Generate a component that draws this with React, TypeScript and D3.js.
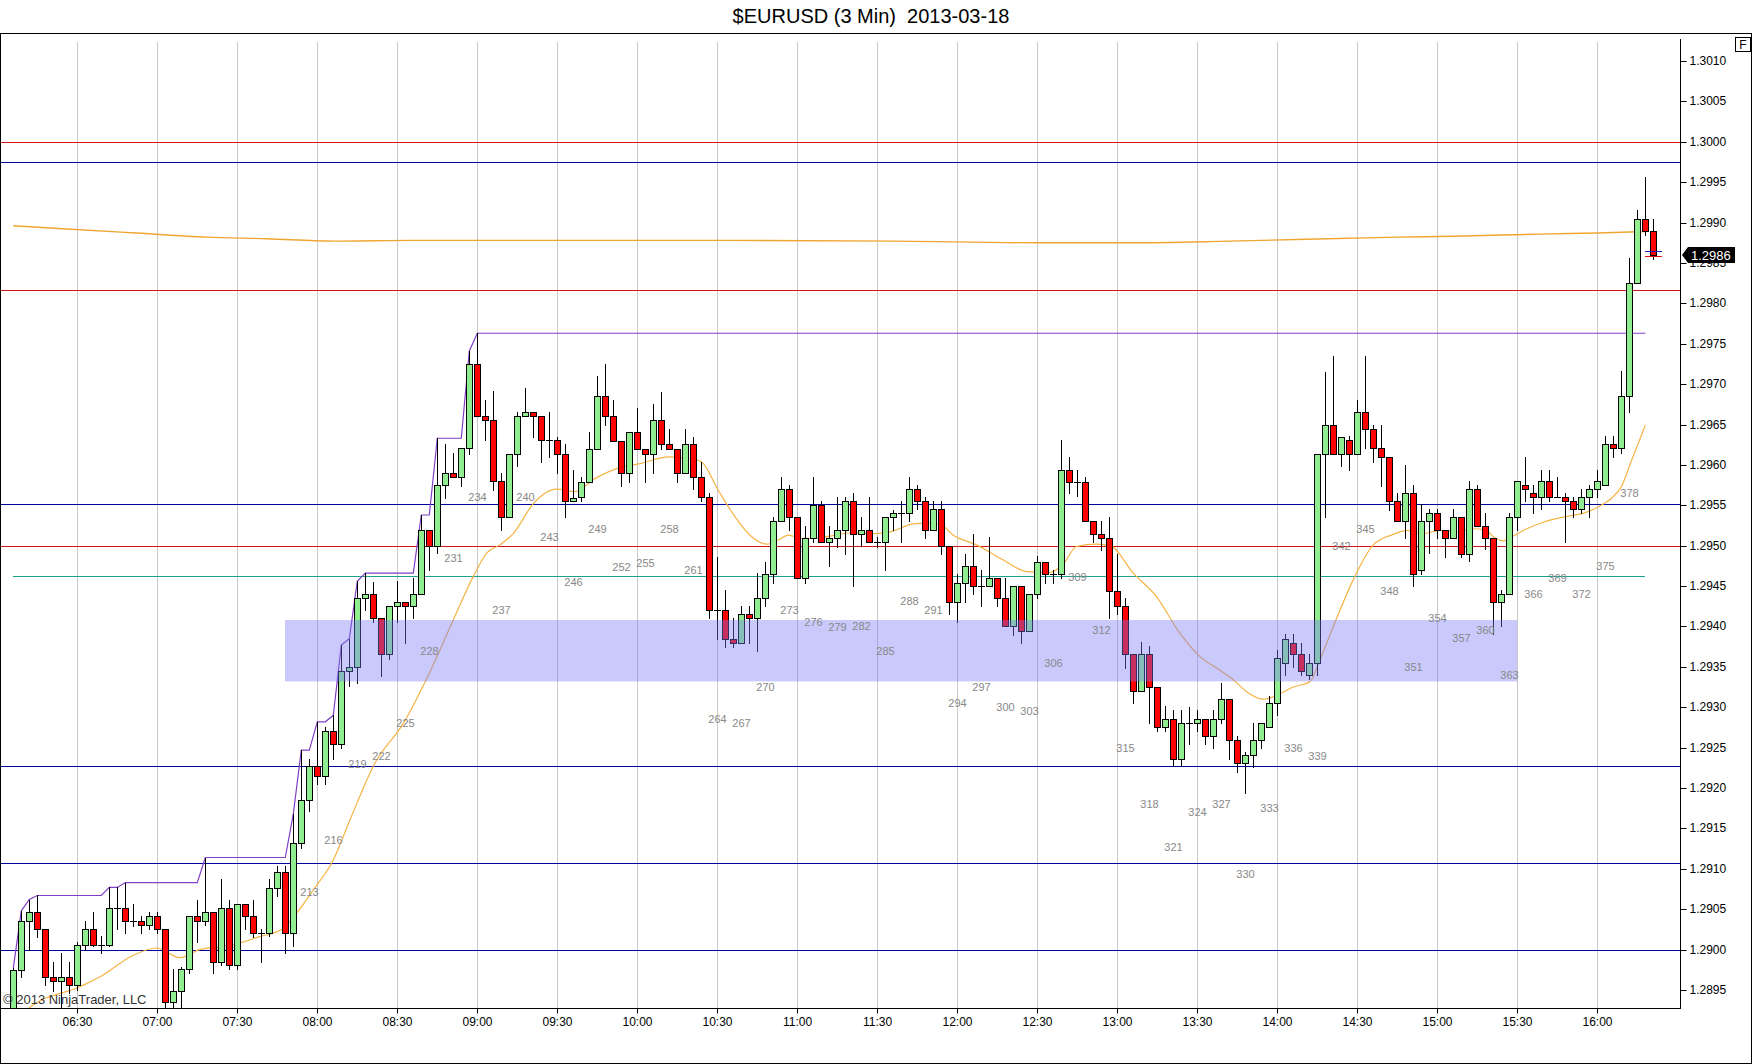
import * as React from 'react';
import {useEffect, useRef} from 'react';
import * as d3 from 'd3';

const SESSION_DATE = '2013-03-18';
const FIRST_BAR = '06:06';
const BAR_MINUTES = 3;

// open, high, low, close for each 3 min bar, bar 0 = 06:06
const candles = [
  [1.28927, 1.28977, 1.28925, 1.28975], [1.28975, 1.29048, 1.28966, 1.29035], [1.29035, 1.29062, 1.29000, 1.29046],
  [1.29046, 1.29067, 1.29016, 1.29026], [1.29026, 1.29026, 1.28956, 1.28966], [1.28966, 1.28985, 1.28949, 1.28961],
  [1.28961, 1.28996, 1.28928, 1.28966], [1.28966, 1.28985, 1.28946, 1.28956], [1.28956, 1.29010, 1.28950, 1.29006],
  [1.29006, 1.29035, 1.29000, 1.29026], [1.29026, 1.29046, 1.29004, 1.29006], [1.29006, 1.29017, 1.28996, 1.29006],
  [1.29006, 1.29077, 1.29004, 1.29051], [1.29051, 1.29077, 1.29026, 1.29051], [1.29051, 1.29083, 1.29021, 1.29035],
  [1.29035, 1.29056, 1.29029, 1.29035], [1.29035, 1.29042, 1.29020, 1.29030], [1.29030, 1.29046, 1.29026, 1.29042],
  [1.29042, 1.29046, 1.29020, 1.29026], [1.29026, 1.29026, 1.28929, 1.28935], [1.28935, 1.28976, 1.28929, 1.28949],
  [1.28949, 1.28978, 1.28927, 1.28976], [1.28976, 1.29042, 1.28971, 1.29041], [1.29041, 1.29062, 1.29010, 1.29035],
  [1.29035, 1.29114, 1.29030, 1.29046], [1.29046, 1.29046, 1.28971, 1.28985], [1.28985, 1.29088, 1.28981, 1.29051],
  [1.29051, 1.29062, 1.28976, 1.28981], [1.28981, 1.29056, 1.28976, 1.29056], [1.29056, 1.29056, 1.29026, 1.29041],
  [1.29041, 1.29062, 1.29016, 1.29021], [1.29021, 1.29026, 1.28985, 1.29021], [1.29021, 1.29088, 1.29017, 1.29076],
  [1.29076, 1.29103, 1.29066, 1.29096], [1.29096, 1.29103, 1.28996, 1.29021], [1.29021, 1.29168, 1.29005, 1.29132],
  [1.29132, 1.29247, 1.29126, 1.29185], [1.29185, 1.29236, 1.29171, 1.29227], [1.29227, 1.29282, 1.29205, 1.29215],
  [1.29215, 1.29276, 1.29205, 1.29270], [1.29270, 1.29290, 1.29236, 1.29255], [1.29255, 1.29377, 1.29250, 1.29345],
  [1.29345, 1.29385, 1.29326, 1.29350], [1.29350, 1.29456, 1.29330, 1.29435], [1.29435, 1.29466, 1.29420, 1.29440],
  [1.29440, 1.29455, 1.29406, 1.29410], [1.29410, 1.29410, 1.29339, 1.29366], [1.29366, 1.29425, 1.29360, 1.29425],
  [1.29425, 1.29456, 1.29405, 1.29430], [1.29430, 1.29430, 1.29380, 1.29425], [1.29425, 1.29460, 1.29410, 1.29440],
  [1.29440, 1.29538, 1.29440, 1.29520], [1.29520, 1.29520, 1.29470, 1.29500], [1.29500, 1.29633, 1.29491, 1.29575],
  [1.29575, 1.29626, 1.29559, 1.29590], [1.29590, 1.29615, 1.29585, 1.29585], [1.29585, 1.29621, 1.29574, 1.29621],
  [1.29621, 1.29741, 1.29614, 1.29725], [1.29725, 1.29763, 1.29660, 1.29660], [1.29660, 1.29680, 1.29631, 1.29656],
  [1.29656, 1.29691, 1.29569, 1.29580], [1.29580, 1.29590, 1.29520, 1.29535], [1.29535, 1.29614, 1.29535, 1.29614],
  [1.29614, 1.29666, 1.29599, 1.29660], [1.29660, 1.29695, 1.29660, 1.29665], [1.29665, 1.29665, 1.29635, 1.29660],
  [1.29660, 1.29660, 1.29604, 1.29631], [1.29631, 1.29665, 1.29610, 1.29631], [1.29631, 1.29635, 1.29590, 1.29614],
  [1.29614, 1.29626, 1.29535, 1.29555], [1.29555, 1.29594, 1.29555, 1.29559], [1.29560, 1.29585, 1.29555, 1.29579],
  [1.29579, 1.29641, 1.29579, 1.29620], [1.29620, 1.29710, 1.29620, 1.29685], [1.29685, 1.29725, 1.29649, 1.29660],
  [1.29660, 1.29680, 1.29630, 1.29630], [1.29630, 1.29630, 1.29574, 1.29590], [1.29590, 1.29641, 1.29579, 1.29641],
  [1.29641, 1.29670, 1.29620, 1.29620], [1.29620, 1.29620, 1.29579, 1.29614], [1.29614, 1.29675, 1.29590, 1.29656],
  [1.29656, 1.29690, 1.29620, 1.29626], [1.29626, 1.29645, 1.29620, 1.29620], [1.29620, 1.29620, 1.29579, 1.29590],
  [1.29590, 1.29645, 1.29590, 1.29626], [1.29626, 1.29635, 1.29570, 1.29585], [1.29585, 1.29604, 1.29555, 1.29560],
  [1.29560, 1.29565, 1.29410, 1.29420], [1.29420, 1.29486, 1.29385, 1.29420], [1.29420, 1.29445, 1.29375, 1.29385],
  [1.29385, 1.29410, 1.29375, 1.29380], [1.29380, 1.29425, 1.29380, 1.29415], [1.29415, 1.29425, 1.29380, 1.29410],
  [1.29410, 1.29466, 1.29370, 1.29435], [1.29435, 1.29480, 1.29425, 1.29465], [1.29465, 1.29535, 1.29454, 1.29530],
  [1.29530, 1.29585, 1.29530, 1.29570], [1.29570, 1.29575, 1.29520, 1.29535], [1.29535, 1.29535, 1.29460, 1.29460],
  [1.29460, 1.29525, 1.29454, 1.29510], [1.29510, 1.29585, 1.29505, 1.29550], [1.29550, 1.29555, 1.29505, 1.29505],
  [1.29505, 1.29525, 1.29475, 1.29510], [1.29510, 1.29560, 1.29499, 1.29520], [1.29520, 1.29560, 1.29490, 1.29555],
  [1.29555, 1.29565, 1.29450, 1.29515], [1.29515, 1.29535, 1.29500, 1.29520], [1.29520, 1.29560, 1.29505, 1.29505],
  [1.29505, 1.29511, 1.29498, 1.29505], [1.29505, 1.29535, 1.29470, 1.29535], [1.29535, 1.29544, 1.29520, 1.29540],
  [1.29540, 1.29555, 1.29505, 1.29540], [1.29540, 1.29585, 1.29531, 1.29570], [1.29570, 1.29575, 1.29545, 1.29555],
  [1.29555, 1.29560, 1.29510, 1.29520], [1.29520, 1.29555, 1.29520, 1.29545], [1.29545, 1.29555, 1.29490, 1.29500],
  [1.29500, 1.29500, 1.29416, 1.29430], [1.29430, 1.29465, 1.29405, 1.29454], [1.29454, 1.29490, 1.29430, 1.29475],
  [1.29475, 1.29515, 1.29440, 1.29450], [1.29450, 1.29470, 1.29425, 1.29450], [1.29450, 1.29511, 1.29450, 1.29460],
  [1.29460, 1.29460, 1.29425, 1.29435], [1.29435, 1.29460, 1.29400, 1.29400], [1.29400, 1.29450, 1.29390, 1.29450],
  [1.29450, 1.29450, 1.29380, 1.29395], [1.29395, 1.29440, 1.29395, 1.29440], [1.29440, 1.29487, 1.29435, 1.29480],
  [1.29480, 1.29480, 1.29454, 1.29465], [1.29465, 1.29470, 1.29454, 1.29465], [1.29465, 1.29631, 1.29460, 1.29594],
  [1.29594, 1.29610, 1.29565, 1.29579], [1.29579, 1.29594, 1.29561, 1.29579], [1.29579, 1.29585, 1.29530, 1.29530],
  [1.29530, 1.29530, 1.29505, 1.29515], [1.29515, 1.29531, 1.29495, 1.29510], [1.29510, 1.29535, 1.29410, 1.29444],
  [1.29444, 1.29490, 1.29416, 1.29425], [1.29425, 1.29435, 1.29349, 1.29366], [1.29366, 1.29366, 1.29305, 1.29320],
  [1.29320, 1.29381, 1.29320, 1.29366], [1.29366, 1.29376, 1.29280, 1.29325], [1.29325, 1.29325, 1.29270, 1.29275],
  [1.29275, 1.29301, 1.29270, 1.29285], [1.29285, 1.29296, 1.29227, 1.29236], [1.29236, 1.29296, 1.29227, 1.29280],
  [1.29280, 1.29300, 1.29255, 1.29280], [1.29280, 1.29296, 1.29270, 1.29285], [1.29285, 1.29285, 1.29255, 1.29265],
  [1.29265, 1.29296, 1.29250, 1.29285], [1.29285, 1.29330, 1.29280, 1.29310], [1.29310, 1.29310, 1.29236, 1.29260],
  [1.29260, 1.29265, 1.29220, 1.29231], [1.29231, 1.29245, 1.29194, 1.29241], [1.29241, 1.29280, 1.29226, 1.29260],
  [1.29260, 1.29280, 1.29250, 1.29280], [1.29275, 1.29314, 1.29275, 1.29305], [1.29305, 1.29371, 1.29290, 1.29361],
  [1.29355, 1.29391, 1.29340, 1.29385], [1.29380, 1.29391, 1.29350, 1.29366], [1.29366, 1.29380, 1.29340, 1.29345],
  [1.29340, 1.29366, 1.29335, 1.29355], [1.29355, 1.29614, 1.29340, 1.29614], [1.29614, 1.29715, 1.29535, 1.29650],
  [1.29650, 1.29735, 1.29614, 1.29614], [1.29614, 1.29635, 1.29599, 1.29635], [1.29631, 1.29636, 1.29594, 1.29614],
  [1.29614, 1.29680, 1.29614, 1.29665], [1.29665, 1.29735, 1.29621, 1.29645], [1.29645, 1.29650, 1.29604, 1.29621],
  [1.29621, 1.29650, 1.29574, 1.29610], [1.29610, 1.29610, 1.29544, 1.29555], [1.29555, 1.29565, 1.29530, 1.29530],
  [1.29530, 1.29600, 1.29510, 1.29565], [1.29565, 1.29575, 1.29450, 1.29465], [1.29470, 1.29552, 1.29465, 1.29530],
  [1.29530, 1.29545, 1.29491, 1.29540], [1.29540, 1.29545, 1.29510, 1.29520], [1.29520, 1.29520, 1.29486, 1.29510],
  [1.29510, 1.29545, 1.29510, 1.29535], [1.29535, 1.29535, 1.29486, 1.29490], [1.29490, 1.29580, 1.29481, 1.29570],
  [1.29570, 1.29575, 1.29525, 1.29525], [1.29525, 1.29540, 1.29496, 1.29510], [1.29510, 1.29510, 1.29391, 1.29430],
  [1.29430, 1.29445, 1.29400, 1.29440], [1.29440, 1.29540, 1.29440, 1.29535], [1.29535, 1.29580, 1.29520, 1.29580],
  [1.29575, 1.29610, 1.29555, 1.29570], [1.29565, 1.29575, 1.29540, 1.29560], [1.29560, 1.29594, 1.29545, 1.29580],
  [1.29580, 1.29594, 1.29555, 1.29560], [1.29560, 1.29585, 1.29560, 1.29560], [1.29560, 1.29565, 1.29505, 1.29555],
  [1.29555, 1.29560, 1.29535, 1.29545], [1.29545, 1.29570, 1.29540, 1.29560], [1.29560, 1.29575, 1.29535, 1.29570],
  [1.29570, 1.29594, 1.29560, 1.29580], [1.29575, 1.29636, 1.29575, 1.29626], [1.29626, 1.29636, 1.29610, 1.29621],
  [1.29621, 1.29716, 1.29615, 1.29685], [1.29685, 1.29856, 1.29665, 1.29825], [1.29825, 1.29916, 1.29825, 1.29905],
  [1.29905, 1.29956, 1.29885, 1.29890], [1.29890, 1.29905, 1.29855, 1.29860],
];

const timeTicks = ['06:30', '07:00', '07:30', '08:00', '08:30', '09:00', '09:30', '10:00', '10:30', '11:00',
  '11:30', '12:00', '12:30', '13:00', '13:30', '14:00', '14:30', '15:00', '15:30', '16:00'];

const priceTicks = [1.2895, 1.2900, 1.2905, 1.2910, 1.2915, 1.2920, 1.2925, 1.2930, 1.2935, 1.2940, 1.2945, 1.2950,
  1.2955, 1.2960, 1.2965, 1.2970, 1.2975, 1.2980, 1.2985, 1.2990, 1.2995, 1.3000, 1.3005, 1.3010];

const redLevels = [1.3000, 1.29817, 1.2950];
const navyLevels = [1.29975, 1.29552, 1.29227, 1.29107, 1.2900];
const tealLevel = [1.29462, 0, 204];       // price, from bar, to bar
const zone = [1.29332, 1.29408, 34, 188];   // low, high, from bar, to bar

// day high line [bar, price]
const highSteps = [[0, 1.28977], [1, 1.29048], [2, 1.29062], [3, 1.29067], [11, 1.29067], [12, 1.29077], [13, 1.29077],
  [14, 1.29083], [23, 1.29083], [24, 1.29114], [34, 1.29114], [35, 1.29168], [36, 1.29247], [37, 1.29247], [38, 1.29282],
  [39, 1.29282], [40, 1.2929], [41, 1.29377], [42, 1.29385], [43, 1.29456], [44, 1.29466], [50, 1.29466], [51, 1.29538],
  [52, 1.29538], [53, 1.29633], [56, 1.29633], [57, 1.29741], [58, 1.29763], [204, 1.29763]];

// fast moving average [bar, price]
const fastAvg = [[0, 1.28905], [2, 1.28928], [8.3, 1.28954], [10.8, 1.28966], [15, 1.28993], [17.9, 1.29002], [20.8, 1.2899],
  [23.3, 1.29], [27.5, 1.29006], [30.8, 1.29016], [33.75, 1.29026], [35.4, 1.29045], [37.5, 1.29074], [40, 1.29111],
  [42.1, 1.29161], [44.2, 1.2921], [45, 1.29227], [48.75, 1.2928], [51.7, 1.29336], [55, 1.29408], [57.5, 1.29462],
  [59.2, 1.29491], [60.8, 1.29501], [62.5, 1.29515], [65, 1.29552], [67.9, 1.2957], [70.2, 1.29567], [72.7, 1.29583],
  [75.6, 1.29596], [78.5, 1.29602], [81.9, 1.2961], [84.4, 1.29608], [86, 1.29604], [88.1, 1.29569], [90.2, 1.29536],
  [92.3, 1.29511], [94.2, 1.29502], [95.6, 1.29507], [96.9, 1.29513], [98.5, 1.29509], [101.5, 1.29511], [104.8, 1.29516],
  [107.7, 1.29515], [109.6, 1.29517], [112.5, 1.29527], [114.2, 1.29528], [115.8, 1.29527], [117.5, 1.29513],
  [120.4, 1.29501], [123.8, 1.29482], [126.7, 1.29468], [129.6, 1.29467], [131.3, 1.29478], [132.9, 1.29499],
  [135.4, 1.29502], [137.1, 1.295], [140, 1.29466], [142.9, 1.29437], [145.8, 1.29392], [148.3, 1.29363], [150.8, 1.29346],
  [152.5, 1.29334], [154.2, 1.29319], [156.25, 1.2931], [157.5, 1.29313], [160, 1.29325], [162.1, 1.29332],
  [163.3, 1.29358], [165, 1.294], [167.5, 1.29458], [170, 1.29501], [172.5, 1.29514], [174.2, 1.29519], [176.25, 1.29515],
  [178.3, 1.29519], [180.2, 1.29517], [182.3, 1.29521], [184, 1.2952], [185, 1.29511], [186.25, 1.29506], [187.3, 1.29511],
  [189, 1.2952], [191.5, 1.2953], [194, 1.29536], [196.5, 1.29541], [198.1, 1.29548], [199.8, 1.29559], [201, 1.29573],
  [202.3, 1.29606], [204, 1.29649]];

// slow moving average [bar, price]
const slowAvg = [[0, 1.29896], [6.7, 1.29892], [15.4, 1.29887], [24.2, 1.29882], [31.7, 1.2988], [40, 1.29877],
  [50, 1.29878], [64, 1.29878], [82, 1.29878], [110, 1.29877], [128, 1.29875], [140, 1.29875], [152, 1.29877],
  [173, 1.29882], [180, 1.29883], [192, 1.29886], [198, 1.29887], [204, 1.29889]];

const FIRST_COUNT = 213;
const LAST_COUNT = 378;
const COUNT_STEP = 3;
const COUNT_OFFSET = 176;   // bar number shown = bar index + offset
const COUNT_BELOW = 0.0010;

const lastPrice = 1.2986;
const askBid = [1.29865, 1.29859];

const W = 1752, H = 1064;
const plotRight = 1680, plotTop = 40, plotBottom = 1008;
const FONT = 'Arial, "Liberation Sans", sans-serif';

const EurUsdChart = () => {
    const chartRef = useRef(null);

    useEffect(() => {
        const svg = d3.select(chartRef.current);
        svg.selectAll('*').remove();

        const parse = d3.timeParse('%Y-%m-%d %H:%M');
        const t0 = parse(`${SESSION_DATE} ${FIRST_BAR}`);
        const at = (k) => new Date(+t0 + k * BAR_MINUTES * 60000);

        const x = d3.scaleTime()
            .domain([at(0), at(candles.length - 1)])
            .range([13.3, 13.3 + (candles.length - 1) * 8]);
        const y = d3.scaleLinear()
            .domain([1.2895, 1.3010])
            .range([990, 61]);
        const px = (k) => Math.round(x(at(k)));
        const py = (p) => Math.round(y(p)) + 0.5;

        svg.append('rect').attr('width', W).attr('height', H).attr('fill', '#fff');

        svg.append('text')
            .attr('x', 871).attr('y', 23)
            .attr('text-anchor', 'middle')
            .attr('xml:space', 'preserve')
            .style('white-space', 'pre')
            .style('font-family', FONT).style('font-size', '20px')
            .text(`$EURUSD (${BAR_MINUTES} Min)  ${SESSION_DATE}`);

        svg.append('rect')
            .attr('x', 0.5).attr('y', 33.5).attr('width', W - 1).attr('height', H - 34)
            .attr('fill', 'none').attr('stroke', '#000');

        const clip = svg.append('defs').append('clipPath').attr('id', 'plotclip');
        clip.append('rect').attr('x', 1).attr('y', plotTop).attr('width', plotRight - 1).attr('height', plotBottom - plotTop);

        const tickDates = timeTicks.map(s => parse(`${SESSION_DATE} ${s}`));

        // vertical grid
        svg.append('g').selectAll('line')
            .data(tickDates).enter().append('line')
            .attr('x1', d => Math.round(x(d)) + 0.5).attr('x2', d => Math.round(x(d)) + 0.5)
            .attr('y1', 42).attr('y2', plotBottom)
            .attr('stroke', '#c8c8c8');

        const plot = svg.append('g').attr('clip-path', 'url(#plotclip)');

        // horizontal levels
        plot.selectAll('.red').data(redLevels).enter().append('line')
            .attr('x1', 0).attr('x2', plotRight).attr('y1', d => py(d)).attr('y2', d => py(d))
            .attr('stroke', '#d41414');
        plot.selectAll('.navy').data(navyLevels).enter().append('line')
            .attr('x1', 0).attr('x2', plotRight).attr('y1', d => py(d)).attr('y2', d => py(d))
            .attr('stroke', '#00009c');
        plot.append('line')
            .attr('x1', px(tealLevel[1])).attr('x2', px(tealLevel[2]))
            .attr('y1', py(tealLevel[0])).attr('y2', py(tealLevel[0]))
            .attr('stroke', '#1e9e8c');

        const line = d3.line()
            .x(d => x(at(d[0])))
            .y(d => y(d[1]));

        plot.append('path').datum(slowAvg)
            .attr('d', line.curve(d3.curveMonotoneX))
            .attr('fill', 'none').attr('stroke', '#f0a530').attr('stroke-width', 1.4);
        plot.append('path').datum(fastAvg)
            .attr('d', line.curve(d3.curveMonotoneX))
            .attr('fill', 'none').attr('stroke', '#f5b445').attr('stroke-width', 1.2);
        plot.append('path').datum(highSteps)
            .attr('d', line.curve(d3.curveLinear))
            .attr('fill', 'none').attr('stroke', '#8040c8').attr('stroke-width', 1.2);

        // candles
        const bars = plot.append('g').selectAll('g')
            .data(candles).enter().append('g');
        bars.append('line')
            .attr('x1', (d, i) => px(i) + 0.5).attr('x2', (d, i) => px(i) + 0.5)
            .attr('y1', d => Math.round(y(d[1]))).attr('y2', d => Math.round(y(d[2])) + 1)
            .attr('stroke', '#000');
        bars.each(function (d, i) {
            const g = d3.select(this);
            const top = Math.round(y(Math.max(d[0], d[3])));
            const bot = Math.round(y(Math.min(d[0], d[3])));
            if (bot - top < 1) {
                g.append('line')
                    .attr('x1', px(i) - 3).attr('x2', px(i) + 4)
                    .attr('y1', top + 0.5).attr('y2', top + 0.5)
                    .attr('stroke', '#000');
            } else {
                g.append('rect')
                    .attr('x', px(i) - 2.5).attr('width', 6)
                    .attr('y', top + 0.5).attr('height', bot - top)
                    .attr('fill', d[3] >= d[0] ? '#90ee90' : '#ff0000')
                    .attr('stroke', '#000');
            }
        });

        // last bar ask / bid ticks
        plot.selectAll('.ab').data(askBid).enter().append('line')
            .attr('x1', px(candles.length - 1) - 8).attr('x2', px(candles.length - 1) + 9)
            .attr('y1', d => py(d)).attr('y2', d => py(d))
            .attr('stroke', (d, i) => i === 0 ? '#2020c0' : '#e01010');

        // support zone
        plot.append('rect')
            .attr('x', px(zone[2])).attr('width', px(zone[3]) - px(zone[2]))
            .attr('y', y(zone[1])).attr('height', y(zone[0]) - y(zone[1]))
            .attr('fill', 'rgb(120,120,245)').attr('opacity', 0.4);

        // bar counters
        const counted = d3.range(FIRST_COUNT - COUNT_OFFSET, LAST_COUNT - COUNT_OFFSET + 1, COUNT_STEP);
        plot.append('g').selectAll('text')
            .data(counted).enter().append('text')
            .attr('x', k => px(k) + 0.5)
            .attr('y', k => y(candles[k][2] - COUNT_BELOW))
            .attr('dy', '0.35em')
            .attr('text-anchor', 'middle')
            .style('font-family', FONT).style('font-size', '11px')
            .attr('fill', '#888')
            .text(k => k + COUNT_OFFSET);

        svg.append('text')
            .attr('x', 3).attr('y', 1004)
            .style('font-family', FONT).style('font-size', '13px')
            .attr('fill', '#333')
            .text('\u00a9 2013 NinjaTrader, LLC');

        // axes
        svg.append('line')
            .attr('x1', 0).attr('x2', plotRight + 1).attr('y1', plotBottom + 0.5).attr('y2', plotBottom + 0.5)
            .attr('stroke', '#000');
        svg.append('line')
            .attr('x1', plotRight + 0.5).attr('x2', plotRight + 0.5).attr('y1', 39).attr('y2', plotBottom + 1)
            .attr('stroke', '#000');

        const xAxis = svg.append('g')
            .attr('transform', `translate(0.5, ${plotBottom + 0.5})`)
            .call(d3.axisBottom(x).tickValues(tickDates).tickFormat(d3.timeFormat('%H:%M')).tickSize(5).tickPadding(4)
                .offset(0));
        xAxis.select('.domain').remove();
        xAxis.selectAll('.tick').attr('transform', d => `translate(${Math.round(x(d))},0)`);
        xAxis.selectAll('text').style('font-family', FONT).style('font-size', '12px').attr('fill', '#000');

        const yAxis = svg.append('g')
            .attr('transform', `translate(${plotRight + 0.5}, 0)`)
            .call(d3.axisRight(y).tickValues(priceTicks).tickFormat(d3.format('.4f')).tickSize(6).tickPadding(3)
                .offset(0));
        yAxis.select('.domain').remove();
        yAxis.selectAll('.tick').attr('transform', d => `translate(0,${py(d)})`);
        yAxis.selectAll('text').style('font-family', FONT).style('font-size', '12px').attr('fill', '#000');

        // last price marker
        const ly = y(lastPrice);
        svg.append('path')
            .attr('d', `M${plotRight + 2},${ly} L${plotRight + 8},${ly - 8} L1735,${ly - 8} L1735,${ly + 8} L${plotRight + 8},${ly + 8} Z`)
            .attr('fill', '#000');
        svg.append('text')
            .attr('x', 1691).attr('y', ly).attr('dy', '0.36em')
            .style('font-family', FONT).style('font-size', '13px')
            .attr('fill', '#fff')
            .text(d3.format('.4f')(lastPrice));

        // F button
        svg.append('rect')
            .attr('x', 1735.5).attr('y', 37.5).attr('width', 15).attr('height', 14)
            .attr('fill', '#fff').attr('stroke', '#000');
        svg.append('text')
            .attr('x', 1743).attr('y', 49)
            .attr('text-anchor', 'middle')
            .style('font-family', FONT).style('font-size', '12px')
            .text('F');
    }, []);

    return (
        <svg ref={chartRef} width={W} height={H} style={{display: 'block'}}></svg>
    );
};

const App = () => (
    <div style={{position: 'absolute', left: 0, top: 0}}>
        <EurUsdChart />
    </div>
);

export default App;
